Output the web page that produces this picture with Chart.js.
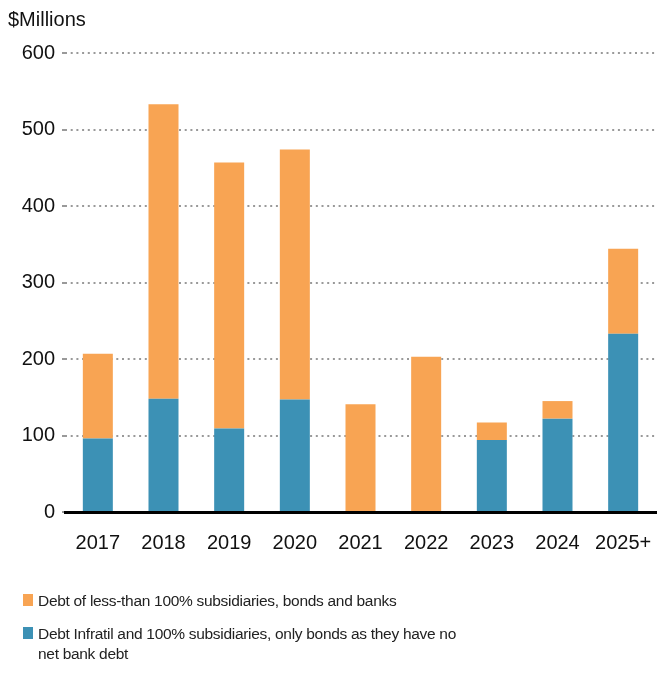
<!DOCTYPE html>
<html>
<head>
<meta charset="utf-8">
<script src="https://cdn.jsdelivr.net/npm/chart.js@4/dist/chart.umd.min.js"></script>
<style>
  html, body { margin: 0; padding: 0; background: #fff; }
  #wrap { position: relative; width: 659px; height: 675px; }
  #legend { position: absolute; left: 23px; top: 591px; font-family: "Liberation Sans", Arial, sans-serif; font-size: 15.5px; letter-spacing: -0.3px; color: #222; }
  .item { position: relative; padding-left: 15px; line-height: 20px; margin-bottom: 13px; width: 425px; }
  .sw { position: absolute; left: 0; top: 3px; width: 10px; height: 12px; }
</style>
</head>
<body>
<div id="wrap">
  <canvas id="c" width="659" height="675"></canvas>
  <div id="legend"></div>
</div>
<script>
const categories = ["2017", "2018", "2019", "2020", "2021", "2022", "2023", "2024", "2025+"];
const whollyOwned = [96, 148, 109, 147, 0, 0, 94, 122, 233];
const partlyOwned = [111, 385, 348, 327, 141, 203, 23, 23, 111];
const seriesLabels = [
  "Debt Infratil and 100% subsidiaries, only bonds as they have no net bank debt",
  "Debt of less-than 100% subsidiaries, bonds and banks"
];
const yTicks = [0, 100, 200, 300, 400, 500, 600];
const colors = ["#3c91b5", "#f8a453"];

const FONT = "'Liberation Sans', Arial, sans-serif";

const chart = new Chart(document.getElementById('c'), {
  type: 'bar',
  data: {
    labels: categories,
    datasets: [
      { label: seriesLabels[0], data: whollyOwned, backgroundColor: colors[0] },
      { label: seriesLabels[1], data: partlyOwned, backgroundColor: colors[1] }
    ]
  },
  options: {
    responsive: false,
    animation: false,
    layout: { padding: { left: 8, right: 3, top: 0, bottom: 109 } },
    datasets: { bar: { barPercentage: 0.457, categoryPercentage: 1 } },
    plugins: {
      legend: { display: false },
      tooltip: { enabled: false },
      title: {
        display: true,
        text: "$Millions",
        align: 'start',
        color: '#111',
        font: { family: FONT, size: 20, weight: 'normal' },
        padding: { top: 8, bottom: 21 }
      }
    },
    scales: {
      x: {
        stacked: true,
        afterFit: (s) => { s.paddingLeft = 0; s.paddingRight = 0; },
        grid: { display: false },
        border: { display: true, color: '#000', width: 3 },
        ticks: { color: '#111', font: { family: FONT, size: 20 }, padding: 11, maxRotation: 0 }
      },
      y: {
        stacked: true,
        min: 0,
        max: 600,
        afterBuildTicks: (s) => { s.ticks = yTicks.map(v => ({ value: v })); },
        afterFit: (s) => { s.width = 57; },
        grid: { color: '#999', lineWidth: 2, drawTicks: true, tickLength: 3 },
        border: { display: false, dash: [2, 3.7] },
        ticks: { color: '#111', font: { family: FONT, size: 20 }, padding: 7 }
      }
    }
  }
});

const legend = document.getElementById('legend');
[1, 0].forEach(i => {
  const ds = chart.data.datasets[i];
  const item = document.createElement('div');
  item.className = 'item';
  const sw = document.createElement('span');
  sw.className = 'sw';
  sw.style.background = ds.backgroundColor;
  item.appendChild(sw);
  item.appendChild(document.createTextNode(ds.label));
  legend.appendChild(item);
});
</script>
</body>
</html>
